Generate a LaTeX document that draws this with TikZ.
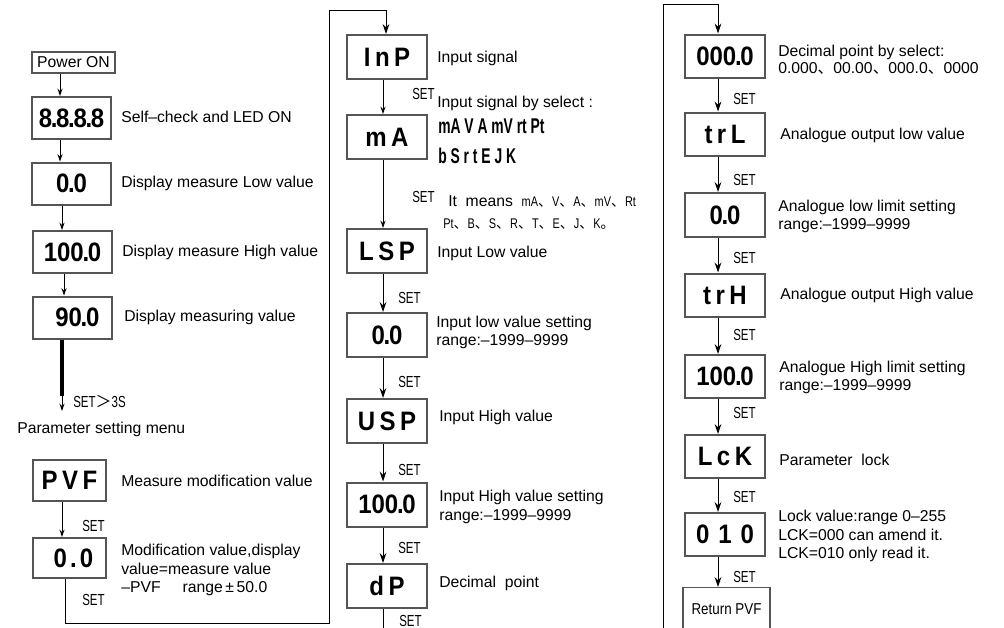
\documentclass[tikz,border=0pt]{standalone}
\usepackage{fontspec}
\setmainfont{Liberation Sans}
\newfontfamily\segfont{Liberation Sans}[FakeStretch=0.9]
\newfontfamily\segnarrow{Liberation Sans}[FakeStretch=0.65]
\newfontfamily\narrowfont{Liberation Sans}[FakeStretch=0.78]
\newfontfamily\setfont{Liberation Sans}[FakeStretch=0.72]
\newfontfamily\retfont{Liberation Sans}[FakeStretch=0.85]
\newfontfamily\cjk{Noto Sans CJK SC}
\usetikzlibrary{arrows.meta}
\definecolor{bgray}{HTML}{555555}
\newcommand\dun{{\cjk 、}}
\newcommand\dt{\kern-0.05em.\kern-0.05em}
\begin{document}
\begin{tikzpicture}[x=0.75pt,y=-0.75pt,
  lbl/.style={anchor=west,inner sep=0,align=left,font=\fontsize{11.8}{14}\selectfont},
  setl/.style={anchor=west,inner sep=0,font=\setfont\fontsize{12}{13}\selectfont},
  smallnarrow/.style={anchor=west,inner sep=0,font=\narrowfont\fontsize{10.5}{12}\selectfont},
  disp/.style={draw=bgray,line width=1.5pt,inner sep=0,font=\segfont\bfseries\fontsize{20}{20}\selectfont},
  lbox/.style={disp,minimum width=59.25pt,minimum height=31.5pt},
  mbox/.style={disp,minimum width=60pt,minimum height=33pt},
  rbox/.style={disp,minimum width=60pt,minimum height=32.25pt},
  arr/.style={-{Stealth[length=5.5pt,width=3.8pt]},line width=0.75pt},
  arrb/.style={-{Stealth[length=7.5pt,width=5pt]},line width=0.75pt},
  segrow/.style={anchor=west,inner sep=0,font=\segnarrow\bfseries\fontsize{16}{16}\selectfont},
]
\useasboundingbox (0,0) rectangle (1004,628);
\fill[white] (0,0) rectangle (1004,628);
\begin{scope}
\clip (0,0) rectangle (1004,628);

% ---------- left column ----------
\node[draw=bgray,line width=2pt,minimum width=62.25pt,minimum height=15.75pt,inner sep=0,
      font=\fontsize{11.8}{14}\selectfont] (pwr) at (73.5,62.5) {Power ON};
\node[lbox] (b1) at (71.5,118) {8\dt8\dt8\dt8};
\node[lbox] (b2) at (71.5,183.5) {0\dt0};
\node[lbox] (b3) at (72.5,252) {100\dt0};
\node[lbox] (b4) at (72,317.5) {\hspace*{8pt}90\dt0};
\node[lbox,minimum width=54.75pt,minimum height=30.75pt] (pvf) at (69.5,480.5) {P\,V\,F};
\node[lbox,minimum width=54.75pt,minimum height=30pt] (pv0) at (69.5,558) {\hspace*{6pt}0\,\dt\,0};

\node[lbl] (t1) at (121,117) {Self--check and LED ON};
\node[lbl] (t2) at (121,183) {Display measure Low value};
\node[lbl] (t3) at (122,252) {Display measure High value};
\node[lbl] (t4) at (124,317) {Display measuring value};
\node[lbl] (menu) at (17,429) {Parameter setting menu};
\node[lbl] (t5) at (121,481) {Measure modification value};
\node[lbl] (t6) at (121,570) {Modification value,display\\value=measure value\\--PVF\hspace{1.4em}range\,±\,50.0};

\node[setl] (s3) at (73,401) {SET{\cjk ＞}3S};
\node[setl] (s1) at (82,526) {SET};
\node[setl] (s2) at (82,600) {SET};

\coordinate (ax1) at (60,0);
\coordinate (ax2) at (62,0);
\coordinate (ax3) at (64,0);
\coordinate (ax4) at (65,0);
\coordinate (thk) at (62,396);
\coordinate (thkend) at (62,411);
\draw[arr] (pwr.south -| ax1) -- (b1.north -| ax1);
\draw[arr] (b1.south -| ax1) -- (b2.north -| ax1);
\draw[arr] (b2.south -| ax2) -- (b3.north -| ax2);
\draw[arr] (b3.south -| ax3) -- (b4.north -| ax3);
\draw[line width=2.6pt] (b4.south -| thk) -- (thk);
\draw[arr] (thk) -- (thkend);
\draw[arr] (pvf.south -| ax2) -- (pv0.north -| ax2);

% ---------- middle column ----------
\node[mbox] (inp) at (387,57) {I\,n\,P};
\node[mbox] (oa) at (387,137) {m\,A};
\node[mbox] (lsp) at (387,251) {L\,S\,P};
\node[mbox] (lo) at (387,335) {0\dt0};
\node[mbox] (usp) at (387,421) {U\,S\,P};
\node[mbox] (hi) at (387,504.5) {100\dt0};
\node[mbox] (dp) at (387,586) {d\,P};

\node[lbl] (m1) at (437,58) {Input signal};
\node[lbl] (m2) at (437,103) {Input signal by select :};
\node[segrow] (m3) at (438,126) {mA\ V\ A\ mV\ rt\ Pt};
\node[segrow] (m4) at (438,156) {b\ S\ r\ t\ E\ J\ K};
\node[lbl] (m5) at (448,201) {It\ \ means\ \ {\narrowfont\fontsize{10.5}{12}\selectfont mA\dun V\dun A\dun mV\dun Rt}};
\node[smallnarrow] (m6) at (443,224) {Pt\dun B\dun S\dun R\dun T\dun E\dun J\dun K{\cjk 。}};
\node[lbl] (m7) at (437,253) {Input Low value};
\node[lbl] (m8) at (436,332.5) {Input low value setting\\range:--1999--9999};
\node[lbl] (m9) at (439,417) {Input High value};
\node[lbl] (m10) at (439,507) {Input High value setting\\range:--1999--9999};
\node[lbl] (m11) at (439,583) {Decimal\ \ point};

\node[setl] (ms1) at (412,94) {SET};
\node[setl] (ms2) at (412,197) {SET};
\node[setl] (ms3) at (398,298) {SET};
\node[setl] (ms4) at (398,382) {SET};
\node[setl] (ms5) at (398,470) {SET};
\node[setl] (ms6) at (398,548) {SET};
\node[setl] (ms7) at (399,621) {SET};

\coordinate (mx) at (383,0);
\coordinate (mtop) at (386,0);
\draw[arr] (inp.south -| mx) -- (oa.north -| mx);
\draw[arr] (oa.south -| mx) -- (lsp.north -| mx);
\draw[arrb] (lsp.south -| mx) -- (lo.north -| mx);
\draw[arrb] (lo.south -| mx) -- (usp.north -| mx);
\draw[arrb] (usp.south -| mx) -- (hi.north -| mx);
\draw[arrb] (hi.south -| mx) -- (dp.north -| mx);

% loop from left column into InP
\coordinate (cLb) at (329,623);
\coordinate (cL) at (329,10);
\draw[arrb] (pv0.south -| ax4) |- (cLb) -- (cL) -| (inp.north -| mtop);

% ---------- right column ----------
\node[rbox] (dps) at (725,56) {000\dt0};
\node[rbox] (trl) at (725,134) {t\,r\,L};
\node[rbox,minimum height=33pt] (r0) at (725,215) {0\dt0};
\node[rbox] (trh) at (725,295) {t\,r\,H};
\node[rbox] (r100) at (725,376.5) {100\dt0};
\node[rbox] (lck) at (725,456.5) {L\,c\,K};
\node[rbox] (r010) at (725,534.5) {0\,\,1\,\,0};
\node[draw=bgray,line width=1pt,anchor=north,minimum width=65.25pt,inner xsep=0,inner ysep=4pt,
      text height=16pt,text depth=40pt,font=\retfont\fontsize{11.8}{14}\selectfont] (ret) at (726.5,587) {Return PVF};

\node[lbl,font=\fontsize{11.8}{12.5}\selectfont] (r1) at (778,60) {Decimal point by select:\\0.000\dun00.00\dun000.0\dun0000};
\node[lbl] (r2) at (780,135) {Analogue output low value};
\node[lbl] (r3) at (778,216.5) {Analogue low limit setting\\range:--1999--9999};
\node[lbl] (r4) at (780,295) {Analogue output High value};
\node[lbl] (r5) at (779,377.5) {Analogue High limit setting\\range:--1999--9999};
\node[lbl] (r6) at (779,460) {Parameter\ \ lock};
\node[lbl] (r7) at (778,536) {Lock value:range 0--255\\LCK=000 can amend it.\\LCK=010 only read it.};

\node[setl] (rs1) at (733,99) {SET};
\node[setl] (rs2) at (733,180) {SET};
\node[setl] (rs3) at (733,258) {SET};
\node[setl] (rs4) at (733,335) {SET};
\node[setl] (rs5) at (733,413) {SET};
\node[setl] (rs6) at (733,497) {SET};
\node[setl] (rs7) at (733,577) {SET};

\coordinate (rx) at (718,0);
\draw[arrb] (dps.south -| rx) -- (trl.north -| rx);
\draw[arrb] (trl.south -| rx) -- (r0.north -| rx);
\draw[arrb] (r0.south -| rx) -- (trh.north -| rx);
\draw[arrb] (trh.south -| rx) -- (r100.north -| rx);
\draw[arrb] (r100.south -| rx) -- (lck.north -| rx);
\draw[arrb] (lck.south -| rx) -- (r010.north -| rx);
\draw[arrb] (r010.south -| rx) -- (ret.north -| rx);

% loop from middle column into right column
\coordinate (cRb) at (663,650);
\coordinate (cR) at (663,4);
\draw[arrb] (dp.south -| mx) |- (cRb) -- (cR) -| (dps.north -| rx);
\end{scope}
\end{tikzpicture}
\end{document}
